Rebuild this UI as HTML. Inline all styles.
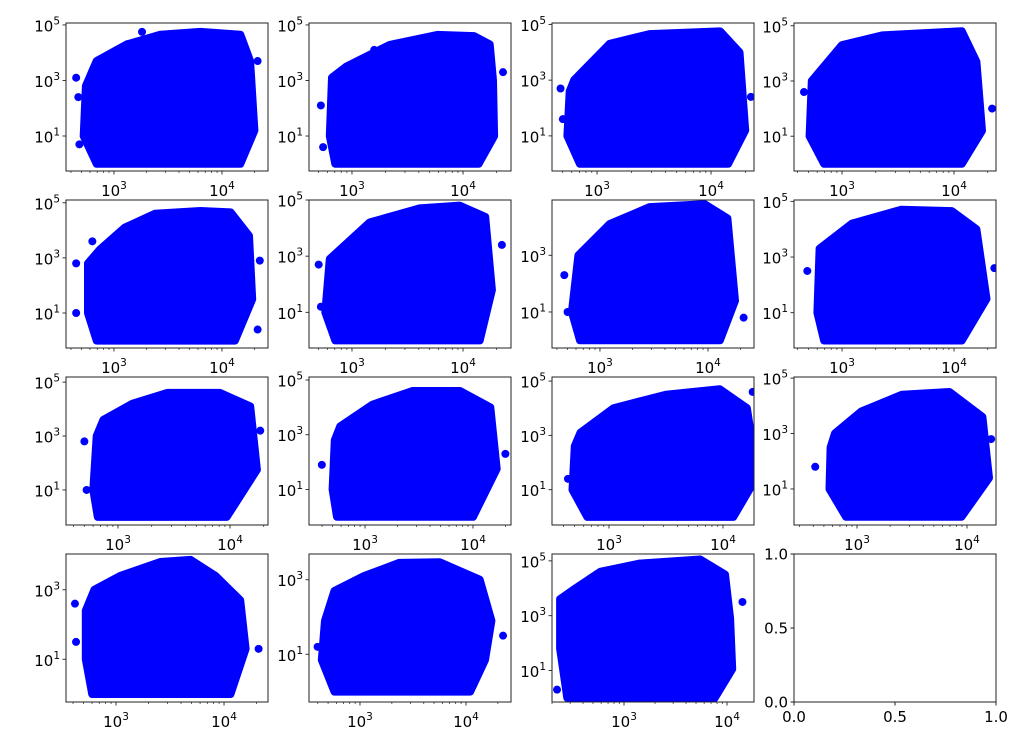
<!DOCTYPE html>
<html><head><meta charset="utf-8">
<style>
html,body{margin:0;padding:0;background:#fff;}
svg{display:block;font-family:"DejaVu Sans","Liberation Sans",sans-serif;}
</style></head>
<body>
<svg id="fig" width="1027" height="756" viewBox="0 0 1027 756" xmlns="http://www.w3.org/2000/svg"></svg>
<script>
const colLeft = [66, 309, 552, 794];
const rowTop = [23, 200, 377, 554];
const PW = 202, PH = 148;

const xLo = [2.556,2.613,2.605,2.571, 2.556,2.613,2.556,2.571, 2.536,2.481,2.5,2.427, 2.537,2.519,2.301];
const xHi = [4.426,4.432,4.377,4.375, 4.426,4.432,4.426,4.375, 4.339,4.352,4.272,4.264, 4.407,4.425,4.262];
const yLo = [-0.26,-0.26,-0.26,-0.26, -0.27,-0.27,-0.27,-0.27, -0.3,-0.3,-0.3,-0.3, -0.23,-0.28,-0.15];
const yHi = [5.07,5.07,5.05,5.1, 5.1,5.0,4.95,5.05, 5.19,5.11,5.15,5.04, 4.03,3.69,5.25];

const env0 = [[2.84,0],[2.72,1],[2.74,2.8],[2.84,3.7],[3.12,4.3],[3.43,4.65],[3.8,4.75],[4.17,4.65],[4.26,3.7],[4.3,1.2],[4.17,0]];
const env1 = [[2.85,0],[2.8,1],[2.82,3.1],[2.95,3.5],[3.34,4.28],[3.77,4.64],[4.1,4.6],[4.24,4.3],[4.27,3],[4.28,1],[4.14,0]];
const env2 = [[2.85,0],[2.74,1],[2.76,2.6],[2.8,3.0],[3.11,4.3],[3.46,4.65],[4.08,4.75],[4.25,4.0],[4.3,1.2],[4.15,0]];
const env3 = [[2.84,0],[2.71,1],[2.73,3.0],[3.0,4.3],[3.36,4.65],[4.07,4.8],[4.2,3.7],[4.25,1.2],[4.07,0]];
const env4 = [[2.84,0],[2.76,1],[2.76,2.8],[2.87,3.3],[3.1,4.1],[3.38,4.6],[3.8,4.7],[4.08,4.65],[4.25,3.8],[4.28,1.5],[4.12,0]];
const env5 = [[2.85,0],[2.76,1],[2.8,2.9],[3.16,4.2],[3.61,4.7],[3.97,4.8],[4.2,4.4],[4.26,1.8],[4.15,0]];
const env6 = [[2.815,0],[2.74,1],[2.8,3.0],[3.09,4.1],[3.46,4.7],[3.97,4.8],[4.18,4.3],[4.25,1.4],[4.11,0]];
const env7 = [[2.84,0],[2.78,1],[2.8,3.3],[3.09,4.2],[3.53,4.7],[3.98,4.65],[4.2,4.0],[4.29,1.5],[4.07,0]];
const env8 = [[2.82,0],[2.78,1],[2.81,3.0],[2.87,3.6],[3.13,4.2],[3.44,4.6],[3.91,4.6],[4.18,4.1],[4.24,1.75],[3.97,0]];
const env9 = [[2.74,0],[2.7,1],[2.72,2.8],[2.77,3.3],[3.07,4.1],[3.44,4.6],[3.88,4.6],[4.16,4.0],[4.22,1.75],[4.0,0]];
const env10 = [[2.81,0],[2.68,1],[2.7,2.6],[2.75,3.1],[3.04,4.0],[3.5,4.5],[3.97,4.7],[4.21,4.0],[4.3,1.5],[4.09,0]];
const env11 = [[2.9,0],[2.75,1],[2.76,2.5],[2.8,3.0],[3.04,3.8],[3.41,4.4],[3.84,4.5],[4.14,3.6],[4.2,1.4],[3.95,0]];
const env12 = [[2.78,0],[2.72,1],[2.72,2.4],[2.8,3.0],[3.04,3.4],[3.41,3.8],[3.69,3.86],[3.92,3.4],[4.15,2.7],[4.2,1.3],[4.06,0]];
const env13 = [[2.76,0],[2.64,0.85],[2.67,1.9],[2.76,2.7],[3.04,3.1],[3.37,3.45],[3.75,3.47],[4.13,3.0],[4.24,1.9],[4.18,0.85],[4.04,0]];
const env14 = [[2.45,0],[2.38,1.8],[2.38,3.6],[2.53,4.0],[2.77,4.6],[3.15,4.9],[3.74,5.05],[3.98,4.5],[4.03,2.9],[4.05,1.05],[3.88,0]];
const envelopes = [env0,env1,env2,env3,env4,env5,env6,env7,env8,env9,env10,env11,env12,env13,env14];

const out0 = [[2.67,2.4],[3.26,4.75],[4.33,3.7],[2.68,0.7],[2.65,3.1]];
const out1 = [[2.72,2.1],[2.74,0.6],[3.2,4.1],[4.36,3.3]];
const out2 = [[2.68,2.7],[2.7,1.6],[4.35,2.4]];
const out3 = [[2.66,2.6],[4.34,2.0]];
const out4 = [[2.65,2.8],[2.65,1.0],[2.8,3.6],[4.35,2.9],[4.33,0.4]];
const out5 = [[2.7,2.7],[2.72,1.2],[4.35,3.4]];
const out6 = [[2.67,2.3],[2.7,1.0],[4.33,0.8]];
const out7 = [[2.69,2.5],[4.36,2.6]];
const out8 = [[2.7,2.8],[2.72,1.0],[4.27,3.2]];
const out9 = [[2.6,1.9],[4.3,2.3]];
const out10 = [[2.64,1.4],[4.26,4.6]];
const out11 = [[2.62,1.8],[4.22,2.8]];
const out12 = [[2.62,2.6],[2.63,1.5],[4.32,1.3]];
const out13 = [[2.6,1.2],[4.35,1.5]];
const out14 = [[2.35,0.3],[4.15,3.5]];
const outliers = [out0,out1,out2,out3,out4,out5,out6,out7,out8,out9,out10,out11,out12,out13,out14];

const xMajor = [3, 4];
const yMajor = [1, 3, 5];
const emptyTicks = ['0.0', '0.5', '1.0'];

const NS = 'http://www.w3.org/2000/svg';
const fig = document.getElementById('fig');
function mk(tag, attrs, parent) {
  const e = document.createElementNS(NS, tag);
  for (const k in attrs) e.setAttribute(k, attrs[k]);
  (parent || fig).appendChild(e);
  return e;
}
function powLabel(parent, x, y, exp, anchor) {
  const t = mk('text', {x: x, y: y, 'font-size': 15, 'text-anchor': anchor, fill: '#000'}, parent);
  const b = document.createElementNS(NS, 'tspan'); b.textContent = '10'; t.appendChild(b);
  const s = document.createElementNS(NS, 'tspan');
  s.setAttribute('font-size', 10.5); s.setAttribute('dy', -7); s.textContent = String(exp);
  t.appendChild(s);
  return t;
}

for (let i = 0; i < 16; i++) {
  const r = Math.floor(i / 4), c = i % 4;
  const L = colLeft[c], T = rowTop[r], R = L + PW, B = T + PH;
  const g = mk('g', {});
  
  
  const bg = mk('rect', {x: L, y: T, width: PW, height: PH, fill: '#fff'}, g);
  
  

  if (i === 15) {
    const fr = mk('rect', {x: L, y: T, width: PW, height: PH, fill: 'none', stroke: '#222', 'stroke-width': 1}, g);
    
    
    emptyTicks.forEach((lab) => {
      const v = parseFloat(lab);
      const px = L + v * PW, py = B - v * PH;
      mk('line', {x1: px, y1: B, x2: px, y2: B + 3.5, stroke: '#222'}, g);
      const tx = mk('text', {x: px, y: B + 20, 'font-size': 15, 'text-anchor': 'middle'}, g);
      tx.textContent = lab;
      
      
      mk('line', {x1: L - 3.5, y1: py, x2: L, y2: py, stroke: '#222'}, g);
      const ty = mk('text', {x: L - 6, y: py + 5.5, 'font-size': 15, 'text-anchor': 'end'}, g);
      ty.textContent = lab;
      
      
    });
    continue;
  }

  const sx = v => L + (v - xLo[i]) / (xHi[i] - xLo[i]) * PW;
  const sy = v => B - (v - yLo[i]) / (yHi[i] - yLo[i]) * PH;
  const cid = 'clip' + i;
  const cp = mk('clipPath', {id: cid}, g);
  mk('rect', {x: L, y: T, width: PW, height: PH}, cp);
  const dg = mk('g', {'clip-path': 'url(#' + cid + ')'}, g);
  const pts = envelopes[i].map(p => sx(p[0]).toFixed(1) + ',' + sy(p[1]).toFixed(1)).join(' ');
  const poly = mk('polygon', {points: pts, fill: '#0000ff', stroke: '#0000ff', 'stroke-width': 8, 'stroke-linejoin': 'round'}, dg);
  
  
  outliers[i].forEach(p => {
    const ci = mk('circle', {cx: sx(p[0]), cy: sy(p[1]), r: 4, fill: '#0000ff'}, dg);
    
    
  });
  const fr = mk('rect', {x: L, y: T, width: PW, height: PH, fill: 'none', stroke: '#222', 'stroke-width': 1}, g);
  
  

  for (let d = Math.floor(xLo[i]); d <= Math.ceil(xHi[i]); d++) {
    for (let m = 1; m <= 9; m++) {
      const lv = d + Math.log10(m);
      if (lv < xLo[i] || lv > xHi[i]) continue;
      const px = sx(lv);
      mk('line', {x1: px, y1: B, x2: px, y2: B + (m === 1 ? 3.5 : 2), stroke: '#222', 'stroke-width': m === 1 ? 0.9 : 0.7}, g);
    }
  }
  xMajor.forEach(e => {
    const t = powLabel(g, sx(e), B + 25, e, 'middle');
    
    
  });
  yMajor.forEach(e => {
    if (e < yLo[i] || e > yHi[i]) return;
    const py = sy(e);
    mk('line', {x1: L - 3.5, y1: py, x2: L, y2: py, stroke: '#222', 'stroke-width': 0.9}, g);
    const t = powLabel(g, L - 6, py + 6.5, e, 'end');
    
    
  });
}
</script>
</body></html>
